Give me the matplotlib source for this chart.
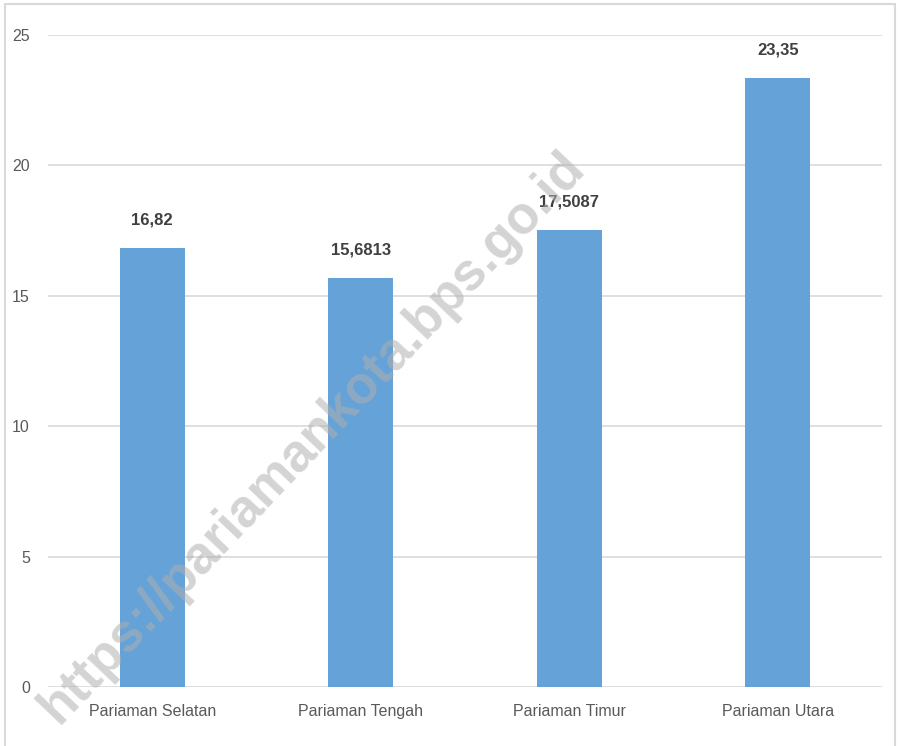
import matplotlib
matplotlib.use("Agg")
import matplotlib.pyplot as plt
from matplotlib.patches import Rectangle

# data
districts = ["Pariaman Selatan", "Pariaman Tengah", "Pariaman Timur",
             "Pariaman Utara"]
values = [16.82, 15.6813, 17.5087, 23.35]
value_labels = ["16,82", "15,6813", "17,5087", "23,35"]
yticks = [0, 5, 10, 15, 20, 25]

plt.rcParams['font.family'] = ['Liberation Sans', 'DejaVu Sans']

fig = plt.figure(figsize=(9, 7.46), dpi=100)
ax = fig.add_axes([0.0533, 0.079, 0.9267, 0.874])

x = range(len(districts))
ax.bar(x, values, width=0.31, color='#65a2d7', zorder=3)

for xi, v, lab in zip(x, values, value_labels):
    ax.text(xi, v + 0.8, lab, ha='center', va='bottom', fontsize=12,
            fontweight='bold', color='#404040', zorder=4)

ax.set_xlim(-0.5, len(districts) - 0.5)
ax.set_ylim(0, 25)
ax.set_yticks(yticks)
ax.set_yticklabels([str(t) for t in yticks])
ax.set_xticks(list(x))
ax.set_xticklabels(districts)
ax.tick_params(axis='both', length=0, labelsize=11.5, colors='#595959')
ax.tick_params(axis='x', pad=12)
ax.tick_params(axis='y', pad=13)
ax.grid(axis='y', color='#d9d9d9', linewidth=1.2, zorder=0)
for s in ax.spines.values():
    s.set_visible(False)

# watermark
fig.text(0.347, 0.414, "https://pariamankota.bps.go.id", rotation=46.5,
         ha='center', va='center', fontsize=38, fontweight='bold',
         color='#b0b0b0', alpha=0.55, zorder=10)

# frame around the chart
fig.patches.append(Rectangle((0.006, -0.01), 0.988, 1.005,
                             transform=fig.transFigure, fill=False,
                             edgecolor='#d9d9d9', linewidth=1.5))

plt.savefig('out.png', dpi=100)
